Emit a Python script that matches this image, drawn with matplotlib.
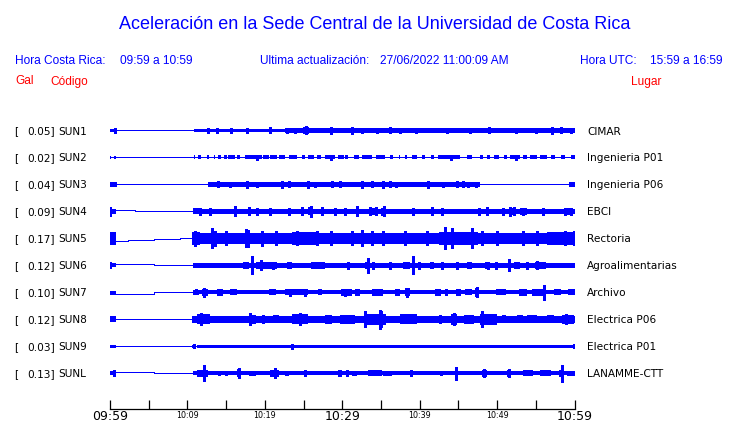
import matplotlib
matplotlib.use("Agg")
import matplotlib.pyplot as plt

# ---------------- data (time in minutes after 09:59, amplitude = half-height in px) -------------
codes = ["SUN1", "SUN2", "SUN3", "SUN4", "SUN5", "SUN6", "SUN7", "SUN8", "SUN9", "SUNL"]
gal = ["0.05", "0.02", "0.04", "0.09", "0.17", "0.12", "0.10", "0.12", "0.03", "0.13"]
places = ["CIMAR", "Ingenieria P01", "Ingenieria P06", "EBCI", "Rectoria", "Agroalimentarias",
          "Archivo", "Electrica P06", "Electrica P01", "LANAMME-CTT"]

major_ticks = [0, 30, 60]
major_labels = ["09:59", "10:29", "10:59"]
minor_ticks = [5, 10, 15, 20, 25, 35, 40, 45, 50, 55]
minor_labels = ["", "10:09", "", "10:19", "", "", "10:39", "", "10:49", ""]

# continuous core band: (start, end, half amplitude)
core = [(10.8, 60.0, 1.8), (10.8, 60.0, 0.0), (12.7, 47.8, 2.3), (10.7, 60.0, 2.7),
        (10.6, 60.0, 5.8), (10.7, 60.0, 2.1), (10.7, 60.0, 2.1), (10.6, 60.0, 3.6),
        (11.2, 60.0, 1.8), (10.7, 60.0, 2.0)]

# baseline offsets before the record (start time, offset)
line_SUN1 = [(0, 0.0)]
line_SUN2 = [(0, 0.0)]
line_SUN3 = [(0, 0.0)]
line_SUN4 = [(0, -1.7), (3.2, -0.8), (8.2, 0.0)]
line_SUN5 = [(0, 2.8), (2.3, 1.5), (5.7, 0.5), (9.1, -0.3), (10.6, 0.0)]
line_SUN6 = [(0, -1.0), (5.7, 0.0)]
line_SUN7 = [(0, 1.2), (5.7, 0.0)]
line_SUN8 = [(0, 0.0)]
line_SUN9 = [(0, 0.0)]
line_SUNL = [(0, -1.3), (5.7, 0.0)]

# bursts: (start, end, half amplitude)
bursts_SUN1 = [(0.0, 0.75, 1.9), (24.9, 25.7, 3.5), (22.6, 60.0, 2.1)]
bursts_SUN2 = [(0.0, 0.15, 1.6), (0.5, 0.75, 1.6), (10.8, 11.0, 2.0), (11.4, 11.8, 2.0),
               (12.5, 12.8, 2.0), (13.4, 13.6, 2.0), (14.0, 14.4, 2.0), (14.7, 15.1, 2.0),
               (15.3, 16.2, 2.0), (16.4, 16.8, 2.0), (17.5, 19.6, 2.0), (19.8, 20.5, 2.0),
               (20.7, 21.6, 2.0), (21.8, 22.6, 2.0), (23.1, 24.1, 2.0), (24.8, 25.2, 2.0),
               (25.6, 26.3, 2.0), (26.7, 27.2, 2.0), (27.8, 29.1, 2.0), (29.5, 30.2, 2.0),
               (30.4, 30.8, 2.0), (31.5, 32.1, 2.0), (32.5, 33.8, 2.0), (34.3, 35.5, 2.0),
               (36.2, 36.6, 2.0), (37.3, 37.5, 2.0), (38.1, 38.4, 2.0), (39.0, 39.6, 2.0),
               (40.3, 40.7, 2.0), (41.4, 41.8, 2.0), (42.4, 45.2, 2.0), (46.1, 46.8, 2.0),
               (47.8, 48.2, 2.0), (48.7, 49.1, 2.0), (49.6, 50.2, 2.0), (50.9, 51.3, 2.0),
               (51.7, 53.0, 2.0), (53.4, 53.9, 2.0), (54.3, 55.2, 2.0), (55.6, 56.5, 2.0),
               (56.9, 57.5, 2.0), (58.2, 58.8, 2.0), (59.5, 60.0, 2.0)]
bursts_SUN3 = [(0.0, 0.85, 2.2), (59.3, 60.0, 2.2), (14.0, 14.5, 2.8), (17.5, 18.2, 2.8),
               (22.0, 26.0, 2.7), (32.3, 35.5, 2.8), (35.8, 37.2, 2.8), (40.5, 41.5, 2.9),
               (44.5, 46.5, 2.8)]
bursts_SUN4 = [(0.0, 0.75, 2.5), (10.7, 11.6, 3.0), (25.6, 26.2, 4.0), (33.5, 34.3, 3.6),
               (51.5, 52.4, 3.6), (53.0, 53.9, 3.2), (58.6, 59.8, 3.2)]
bursts_SUN5 = [(0.0, 0.8, 6.3), (10.6, 11.6, 6.5), (23.5, 27.0, 6.5), (42.5, 47.5, 6.5),
               (56.5, 60.0, 6.4)]
bursts_SUN6 = [(0.0, 0.75, 2.0), (10.7, 11.6, 2.2), (11.4, 12.2, 2.9), (14.4, 14.9, 2.9),
               (15.1, 15.8, 2.9), (17.2, 17.9, 3.3), (18.8, 19.4, 3.3), (19.8, 21.6, 3.1),
               (22.8, 23.5, 3.1), (25.9, 27.8, 3.1), (29.5, 29.9, 2.9), (33.0, 33.6, 3.3),
               (37.9, 38.8, 3.3), (41.3, 41.9, 3.6), (46.1, 46.8, 3.3), (48.5, 48.9, 3.3),
               (52.2, 53.0, 3.3), (54.9, 56.3, 3.6), (56.5, 60.0, 2.5)]
bursts_SUN7 = [(0.0, 0.75, 1.8), (10.7, 11.5, 2.2), (11.0, 11.4, 2.9), (11.9, 12.7, 3.6),
               (15.5, 16.4, 2.9), (20.6, 21.4, 2.9), (22.6, 25.6, 3.1), (26.9, 27.4, 2.9),
               (29.9, 31.3, 3.3), (31.7, 32.3, 3.4), (33.8, 35.3, 3.3), (36.8, 37.5, 3.3),
               (38.1, 38.8, 3.9), (42.0, 42.7, 3.3), (43.3, 43.7, 3.6), (44.7, 45.3, 3.6),
               (45.9, 46.7, 2.9), (47.2, 47.6, 4.5), (49.8, 51.1, 3.1), (52.8, 53.9, 3.4),
               (54.5, 56.2, 3.4), (57.3, 58.2, 2.9), (59.2, 60.0, 3.1)]
bursts_SUN8 = [(0.0, 0.75, 3.0), (10.6, 11.6, 3.6), (11.2, 12.9, 5.0), (17.9, 18.8, 4.6),
               (19.6, 20.0, 4.3), (21.1, 21.8, 4.1), (23.5, 25.6, 5.0), (27.8, 28.7, 4.3),
               (29.7, 31.7, 4.3), (33.0, 35.6, 5.2), (37.5, 39.6, 5.0), (42.5, 42.9, 4.3),
               (44.0, 44.8, 5.4), (45.7, 47.0, 4.8), (47.8, 50.0, 5.4), (50.6, 51.1, 4.1),
               (52.6, 53.4, 4.0), (53.9, 55.2, 4.0), (56.4, 57.3, 4.0), (58.4, 59.9, 4.3)]
bursts_SUN9 = [(0.0, 0.8, 1.5), (10.6, 10.9, 1.5)]
bursts_SUNL = [(0.0, 0.75, 2.0), (10.7, 11.5, 2.0), (11.2, 12.7, 3.6), (14.0, 14.3, 2.8),
               (14.9, 15.3, 2.8), (16.4, 16.8, 4.0), (17.9, 18.8, 2.8), (20.7, 21.8, 3.6),
               (22.6, 23.1, 2.8), (29.5, 30.0, 3.3), (31.3, 31.9, 2.8), (33.3, 35.1, 3.1),
               (35.3, 36.4, 2.8), (38.8, 39.2, 3.6), (42.6, 43.0, 2.8), (44.5, 44.9, 3.6),
               (48.0, 48.7, 3.6), (51.3, 51.7, 3.6), (53.4, 54.7, 3.0), (55.6, 56.9, 3.0),
               (58.0, 58.6, 3.2), (59.0, 60.0, 2.8)]

# spikes: (time, half amplitude)
spikes_SUN1 = [(0.7, 2.3), (12.6, 2.8), (13.8, 2.6), (15.6, 2.5), (17.7, 2.6), (20.7, 3.0),
               (22.8, 2.6), (23.9, 2.6), (25.3, 4.0), (28.5, 3.8), (31.3, 3.5), (32.5, 2.6),
               (34.5, 2.6), (36.2, 3.0), (37.5, 2.6), (39.5, 2.6), (43.5, 2.6), (46.5, 2.6),
               (48.9, 3.0), (52.4, 2.6), (55.0, 2.6), (57.1, 3.5), (58.2, 3.0), (59.5, 2.8)]
spikes_SUN2 = [(19.0, 2.2), (28.5, 2.2), (44.0, 2.2), (52.5, 2.2)]
spikes_SUN3 = [(14.0, 3.0), (15.5, 2.9), (17.7, 3.1), (19.0, 2.9), (22.2, 3.1), (23.1, 3.0),
               (25.6, 3.6), (26.5, 2.9), (28.7, 3.0), (29.7, 3.0), (32.5, 3.1), (33.8, 3.0),
               (35.2, 3.1), (36.2, 3.0), (37.0, 2.9), (41.1, 3.4), (43.0, 2.9), (44.8, 3.0),
               (45.6, 3.0), (46.2, 2.9), (47.3, 2.9)]
spikes_SUN4 = [(0.05, 4.5), (11.6, 3.3), (12.9, 3.5), (16.2, 5.0), (17.9, 4.0), (19.0, 3.4),
               (20.7, 3.3), (23.1, 3.5), (24.8, 4.0), (25.9, 5.5), (27.4, 4.0), (29.1, 3.5),
               (30.4, 3.3), (31.9, 5.0), (33.6, 4.0), (34.3, 4.0), (35.1, 3.5), (35.4, 5.0),
               (39.2, 3.2), (41.6, 4.0), (42.9, 3.5), (47.6, 3.5), (48.7, 4.0), (50.7, 3.5),
               (51.7, 4.5), (52.2, 4.0), (53.3, 3.5), (55.9, 3.5), (58.8, 3.5), (59.5, 3.5)]
spikes_SUN5 = [(11.0, 7.5), (13.2, 10.0), (13.6, 7.5), (15.0, 7.0), (17.6, 9.0), (17.8, 8.5),
               (19.6, 7.5), (21.5, 7.0), (24.2, 7.0), (26.7, 7.0), (28.5, 7.0), (31.3, 7.0),
               (32.5, 8.0), (33.8, 7.0), (35.3, 7.0), (38.1, 7.0), (41.0, 7.0), (43.3, 11.0),
               (44.2, 10.0), (46.8, 10.0), (48.0, 7.0), (50.0, 7.0), (53.4, 7.0), (55.2, 7.0),
               (58.8, 7.0), (59.9, 7.0)]
spikes_SUN6 = [(0.05, 3.0), (18.3, 9.0), (19.5, 5.0), (21.0, 3.4), (30.8, 3.3), (33.3, 7.5),
               (34.0, 3.3), (36.2, 3.1), (39.2, 9.0), (39.9, 3.4), (42.9, 3.3), (44.8, 3.3),
               (48.8, 3.3), (49.8, 3.3), (51.5, 6.0), (53.9, 3.3), (55.2, 4.0)]
spikes_SUN7 = [(12.2, 4.2), (14.0, 3.1), (14.4, 3.1), (23.3, 3.8), (25.2, 3.8), (30.4, 3.4),
               (38.3, 4.5), (47.4, 5.0), (56.0, 7.5)]
spikes_SUN8 = [(11.8, 6.0), (18.1, 6.0), (24.6, 6.0), (33.0, 8.0), (34.9, 9.5), (35.0, 8.0),
               (44.4, 6.0), (48.1, 8.0), (58.9, 5.0)]
spikes_SUN9 = [(10.8, 2.1), (23.5, 2.7), (59.9, 2.1)]
spikes_SUNL = [(0.5, 3.0), (11.5, 3.0), (12.1, 8.0), (16.6, 5.0), (21.3, 5.0), (25.2, 3.1),
               (30.6, 3.1), (44.7, 6.5), (48.3, 4.0), (51.6, 4.0), (58.4, 8.5)]

# ---------------- drawing -------------
W, H = 740, 423
BLUE = "#0000FF"
RED = "#FF0000"
fig = plt.figure(figsize=(W / 100, H / 100), dpi=100)
fig.patch.set_facecolor("white")

lines = [line_SUN1, line_SUN2, line_SUN3, line_SUN4, line_SUN5,
         line_SUN6, line_SUN7, line_SUN8, line_SUN9, line_SUNL]
bursts = [bursts_SUN1, bursts_SUN2, bursts_SUN3, bursts_SUN4, bursts_SUN5,
          bursts_SUN6, bursts_SUN7, bursts_SUN8, bursts_SUN9, bursts_SUNL]
spikes = [spikes_SUN1, spikes_SUN2, spikes_SUN3, spikes_SUN4, spikes_SUN5,
          spikes_SUN6, spikes_SUN7, spikes_SUN8, spikes_SUN9, spikes_SUNL]

ax_left, ax_right, ax_top, ax_bottom = 110, 574.5, 118, 409
ax = fig.add_axes([ax_left / W, 1 - ax_bottom / H, (ax_right - ax_left) / W, (ax_bottom - ax_top) / H])
ax.set_xlim(0, 60)
ax.set_ylim(ax_bottom, ax_top)  # y in reference pixel units

first_base, spacing = 130.5, 26.98


def fx(px):
    return px / W


def fy(py):
    return 1 - py / H


for i, code in enumerate(codes):
    base = first_base + spacing * i
    bl = lines[i]
    xs, ys = [], []
    for k, (t0, off) in enumerate(bl):
        t1 = bl[k + 1][0] if k + 1 < len(bl) else 60.0
        xs += [t0, t1]
        ys += [base + off, base + off]
    ax.plot(xs, ys, color=BLUE, lw=0.72, antialiased=False, solid_capstyle="butt")
    c0, c1, ca = core[i]
    if ca > 0:
        ax.fill_between([c0, c1], base - ca, base + ca, color=BLUE, lw=0, antialiased=False)
    for (t0, t1, a) in bursts[i]:
        ax.fill_between([t0, t1], base - a, base + a, color=BLUE, lw=0, antialiased=False)
    for (t, a) in spikes[i]:
        ax.vlines(t, base - a, base + a, color=BLUE, lw=0.8, antialiased=False)

    yb = base + 4.0
    fig.text(fx(14.3), fy(yb), "[", fontsize=7.6, family="DejaVu Sans", va="baseline", ha="left")
    fig.text(fx(54.8), fy(yb), gal[i] + "]", fontsize=7.6, family="DejaVu Sans", va="baseline", ha="right")
    fig.text(fx(58.5), fy(yb), code, fontsize=7.6, family="DejaVu Sans", va="baseline", ha="left")
    fig.text(fx(587.3), fy(yb), places[i], fontsize=7.6, family="DejaVu Sans", va="baseline", ha="left")

for s in ["top", "left", "right"]:
    ax.spines[s].set_visible(False)
ax.spines["bottom"].set_linewidth(0.9)
ax.set_yticks([])
ax.set_xticks(major_ticks)
ax.set_xticklabels(major_labels, fontsize=9.0, family="DejaVu Sans", va="baseline")
ax.set_xticks(minor_ticks, minor=True)
ax.set_xticklabels(minor_labels, minor=True, fontsize=5.8, family="DejaVu Sans", va="baseline")
ax.tick_params(axis="x", which="major", direction="in", length=6.5, width=0.9, pad=(419.5 - 409) * 0.72)
ax.tick_params(axis="x", which="minor", direction="in", length=6.5, width=0.9, pad=(418.3 - 409) * 0.72)
ax.patch.set_alpha(0)

# header
hf = "Liberation Sans"
fig.text(fx(375), fy(29.3), "Aceleración en la Sede Central de la Universidad de Costa Rica",
         fontsize=13, family=hf, color=BLUE, ha="center", va="baseline")
r2 = 64.4
fs2 = 8.6
fig.text(fx(15), fy(r2), "Hora Costa Rica:", fontsize=fs2, family=hf, color=BLUE, va="baseline")
fig.text(fx(120), fy(r2), "09:59 a 10:59", fontsize=fs2, family=hf, color=BLUE, va="baseline")
fig.text(fx(259.5), fy(r2), "Ultima actualización:", fontsize=fs2, family=hf, color=BLUE, va="baseline")
fig.text(fx(380), fy(r2), "27/06/2022 11:00:09 AM", fontsize=fs2, family=hf, color=BLUE, va="baseline")
fig.text(fx(580), fy(r2), "Hora UTC:", fontsize=fs2, family=hf, color=BLUE, va="baseline")
fig.text(fx(650), fy(r2), "15:59 a 16:59", fontsize=fs2, family=hf, color=BLUE, va="baseline")
r3 = 84.5
fig.text(fx(15.5), fy(r3), "Gal", fontsize=fs2, family=hf, color=RED, va="baseline")
fig.text(fx(50.5), fy(r3), "Código", fontsize=fs2, family=hf, color=RED, va="baseline")
fig.text(fx(630.5), fy(r3), "Lugar", fontsize=fs2, family=hf, color=RED, va="baseline")

fig.savefig("out.png", dpi=100, facecolor="white")
